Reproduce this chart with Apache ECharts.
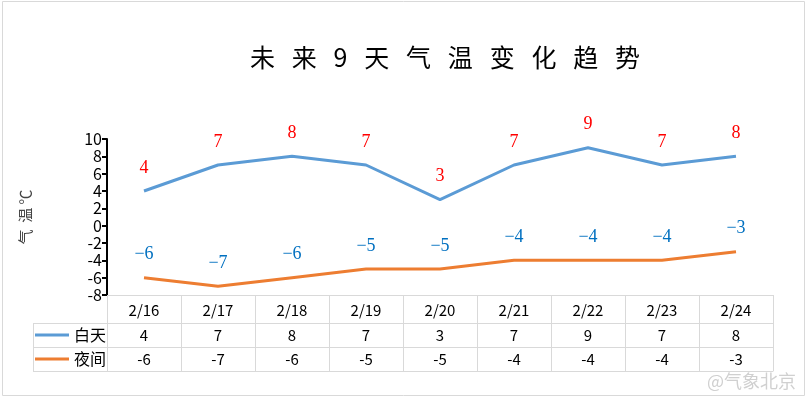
<!DOCTYPE html>
<html><head><meta charset="utf-8">
<script src="https://cdn.jsdelivr.net/npm/echarts@6/dist/echarts.min.js"></script>
<style>html,body{margin:0;padding:0;background:#fff}#c{width:808px;height:400px}</style>
</head><body><div id="c"></div>
<script>
const categories = ['2/16','2/17','2/18','2/19','2/20','2/21','2/22','2/23','2/24'];
const dayTemps = [4,7,8,7,3,7,9,7,8];
const nightTemps = [-6,-7,-6,-5,-5,-4,-4,-4,-3];
const yTicks = {min:-8, max:10, interval:2};

const chart = echarts.init(document.getElementById('c'));
const grey = '#d9d9d9';
const sans = '"Noto Sans CJK SC", "Noto Sans", sans-serif';
const serif = '"Liberation Serif", "DejaVu Serif", serif';
const fmtMinus = v => String(v).replace('-', '\u2212');
const lbl = {color:'#000', fontSize:15, fontFamily:sans};

chart.setOption({
  animation:false,
  title:{text:'未   来   9   天   气   温   变   化   趋   势', left:440, top:40, textAlign:'center',
    textStyle:{fontSize:25, fontWeight:'normal', color:'#000', fontFamily:sans}},
  legend:{orient:'vertical', left:30, top:318, itemWidth:34, itemHeight:3, itemGap:0,
    icon:'rect', textStyle:{color:'#000', fontSize:16, fontFamily:sans, lineHeight:24},
    data:['白天','夜间']},
  grid:{left:107, right:35, top:139, bottom:105, containLabel:false},
  xAxis:[
    {type:'category', data:categories, position:'bottom', offset:0, boundaryGap:true,
      axisLine:{onZero:false, lineStyle:{color:grey}}, axisTick:{show:true, length:76, interval:0, lineStyle:{color:grey}},
      axisLabel:{...lbl, margin:8, interval:0}},
    {type:'category', data:dayTemps.map(String), position:'bottom', offset:28,
      axisLine:{onZero:false, lineStyle:{color:grey}}, axisTick:{show:false}, axisLabel:{...lbl, margin:5, interval:0}},
    {type:'category', data:nightTemps.map(String), position:'bottom', offset:52,
      axisLine:{onZero:false, lineStyle:{color:grey}}, axisTick:{show:false}, axisLabel:{...lbl, margin:5, interval:0}},
    {type:'category', data:categories, position:'bottom', offset:76,
      axisLine:{onZero:false, lineStyle:{color:grey}}, axisTick:{show:false}, axisLabel:{show:false}}
  ],
  yAxis:{type:'value', min:yTicks.min, max:yTicks.max, interval:yTicks.interval,
    name:'气  温 ℃', nameLocation:'middle', nameRotate:90, nameGap:74,
    nameTextStyle:{color:'#444', fontSize:15, fontFamily:sans},
    axisLine:{show:true, lineStyle:{color:'#000', width:2}},
    axisTick:{show:true, length:5, lineStyle:{color:'#000', width:2}},
    axisLabel:{...lbl, fontSize:16, margin:5}, splitLine:{show:false}},
  series:[
    {name:'白天', type:'line', data:dayTemps, xAxisIndex:0, symbol:'circle', symbolSize:0, showSymbol:true,
      lineStyle:{color:'#5B9BD5', width:3}, itemStyle:{color:'#5B9BD5'},
      label:{show:true, position:'top', distance:14, color:'#FF0000', fontSize:18, fontFamily:serif}},
    {name:'夜间', type:'line', data:nightTemps, xAxisIndex:0, symbol:'circle', symbolSize:0, showSymbol:true,
      lineStyle:{color:'#ED7D31', width:3}, itemStyle:{color:'#ED7D31'},
      label:{show:true, position:'top', distance:14, color:'#0070C0', fontSize:18, fontFamily:serif,
        formatter:p=>fmtMinus(p.value)}}
  ],
  graphic:[
    {type:'rect', shape:{x:2.5, y:1.5, width:802, height:394}, style:{fill:null, stroke:grey, lineWidth:1}, silent:true},
    {type:'line', shape:{x1:33, y1:323.5, x2:107, y2:323.5}, style:{stroke:grey}},
    {type:'line', shape:{x1:33, y1:347.5, x2:107, y2:347.5}, style:{stroke:grey}},
    {type:'line', shape:{x1:33, y1:371.5, x2:107, y2:371.5}, style:{stroke:grey}},
    {type:'line', shape:{x1:33.5, y1:323, x2:33.5, y2:372}, style:{stroke:grey}},
    {type:'text', right:12, top:372, style:{text:'@气象北京', fill:'#d0d0d0', fontSize:18, fontFamily:sans}}
  ]
});
</script></body></html>
